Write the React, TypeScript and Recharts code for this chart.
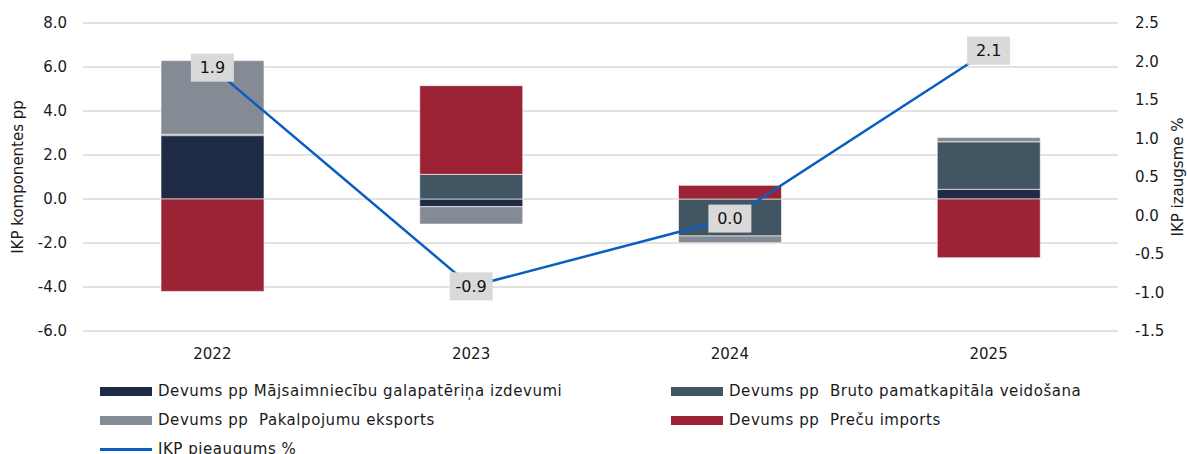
import { ComposedChart, Bar, Line, XAxis, YAxis, CartesianGrid, Legend, LabelList } from 'recharts';

const years = ['2022', '2023', '2024', '2025'];
const majsaimniecibu = [2.88, -0.35, 0.0, 0.44];
const bruto = [0.06, 1.12, -1.68, 2.16];
const pakalpojumu = [3.35, -0.79, -0.31, 0.2];
const precu = [-4.2, 4.03, 0.62, -2.67];
const ikp = [1.92, -0.92, -0.04, 2.14];

const leftTicks = [-6, -4, -2, 0, 2, 4, 6, 8];
const rightTicks = [-1.5, -1.0, -0.5, 0, 0.5, 1.0, 1.5, 2.0, 2.5];

const FONT = '"DejaVu Sans", Verdana, sans-serif';

const series = [
  { key: 'majs', name: 'Devums pp Mājsaimniecību galapatēriņa izdevumi', color: '#1F2A44' },
  { key: 'bruto', name: 'Devums pp  Bruto pamatkapitāla veidošana', color: '#425563' },
  { key: 'pakalp', name: 'Devums pp  Pakalpojumu eksports', color: '#858B95' },
  { key: 'precu', name: 'Devums pp  Preču imports', color: '#9B2335' },
];
const lineItem = { key: 'ikp', name: 'IKP pieaugums %', color: '#0A5EC0' };

const data = years.map((year, i) => ({
  year,
  majs: majsaimniecibu[i],
  bruto: bruto[i],
  pakalp: pakalpojumu[i],
  precu: precu[i],
  ikp: ikp[i],
}));

const fmt = (v: number) => (Math.round(v * 10) / 10 + 0).toFixed(1);

function BoxLabel(props: any) {
  const { x, y, value } = props;
  const w = 43;
  const h = 28;
  return (
    <g>
      <rect x={x - w / 2} y={y - h / 2} width={w} height={h} fill="#D9D9D9" />
      <text x={x} y={y} dy="0.36em" textAnchor="middle" fontSize={16} fill="#111" fontFamily={FONT}>
        {fmt(value)}
      </text>
    </g>
  );
}

function ChartLegend() {
  const rows = [
    [series[0], series[1]],
    [series[2], series[3]],
    [lineItem],
  ];
  return (
    <div style={{ position: 'relative', width: 1187, height: 76, fontFamily: FONT, fontSize: 15, letterSpacing: 0.55, color: '#1a1a1a' }}>
      {rows.map((row, r) =>
        row.map((item, c) => (
          <div
            key={item.key}
            style={{
              position: 'absolute',
              left: c === 0 ? 100 : 671,
              top: 13 + r * 29 - 10,
              height: 20,
              display: 'flex',
              alignItems: 'center',
              whiteSpace: 'pre',
            }}
          >
            {item.key === 'ikp' ? (
              <div style={{ width: 52, height: 3, background: item.color, marginRight: 6 }} />
            ) : (
              <div style={{ width: 52, height: 9, background: item.color, marginRight: 6 }} />
            )}
            <span>{item.name}</span>
          </div>
        ))
      )}
    </div>
  );
}

export default function App() {
  return (
    <div style={{ position: 'absolute', left: 0, top: 0, width: 1187, height: 454, overflow: 'hidden', background: '#fff' }}>
      <ComposedChart
        width={1187}
        height={454}
        data={data}
        stackOffset="sign"
        barSize={103}
        margin={{ top: 23, right: 0, bottom: 0, left: 0 }}
        style={{ fontFamily: FONT }}
      >
        <CartesianGrid vertical={false} yAxisId="left" stroke="#D9D9D9" strokeWidth={1.5} />
        <XAxis
          dataKey="year"
          axisLine={false}
          tickLine={false}
          tickSize={0}
          tickMargin={17}
          height={47}
          tick={{ fontSize: 15, fill: '#1a1a1a' }}
        />
        <YAxis
          yAxisId="left"
          domain={[-6, 8]}
          ticks={leftTicks}
          width={83}
          axisLine={false}
          tickLine={false}
          tickSize={0}
          tickMargin={16}
          tickFormatter={(v: number) => v.toFixed(1)}
          tick={{ fontSize: 15, fill: '#1a1a1a' }}
          label={{ value: 'IKP komponentes pp', angle: -90, position: 'center', dx: -23.5, fontSize: 15, fill: '#1a1a1a' }}
        />
        <YAxis
          yAxisId="right"
          orientation="right"
          domain={[-1.5, 2.5]}
          ticks={rightTicks}
          width={69}
          axisLine={false}
          tickLine={false}
          tickSize={0}
          tickMargin={17}
          tickFormatter={(v: number) => v.toFixed(1)}
          tick={{ fontSize: 15, fill: '#1a1a1a', textAnchor: 'start' }}
          label={{ value: 'IKP izaugsme %', angle: -90, position: 'center', dx: 25.5, fontSize: 15, fill: '#1a1a1a' }}
        />
        {series.map((s) => (
          <Bar
            key={s.key}
            yAxisId="left"
            dataKey={s.key}
            name={s.name}
            stackId="a"
            fill={s.color}
            stroke="#ffffff"
            strokeOpacity={0.6}
            strokeWidth={1}
            isAnimationActive={false}
          />
        ))}
        <Line
          yAxisId="right"
          dataKey="ikp"
          name={lineItem.name}
          stroke={lineItem.color}
          strokeWidth={2.5}
          dot={false}
          activeDot={false}
          isAnimationActive={false}
        >
          <LabelList dataKey="ikp" content={<BoxLabel />} />
        </Line>
        <Legend verticalAlign="bottom" wrapperStyle={{ height: 76 }} content={() => <ChartLegend />} />
      </ComposedChart>
    </div>
  );
}
